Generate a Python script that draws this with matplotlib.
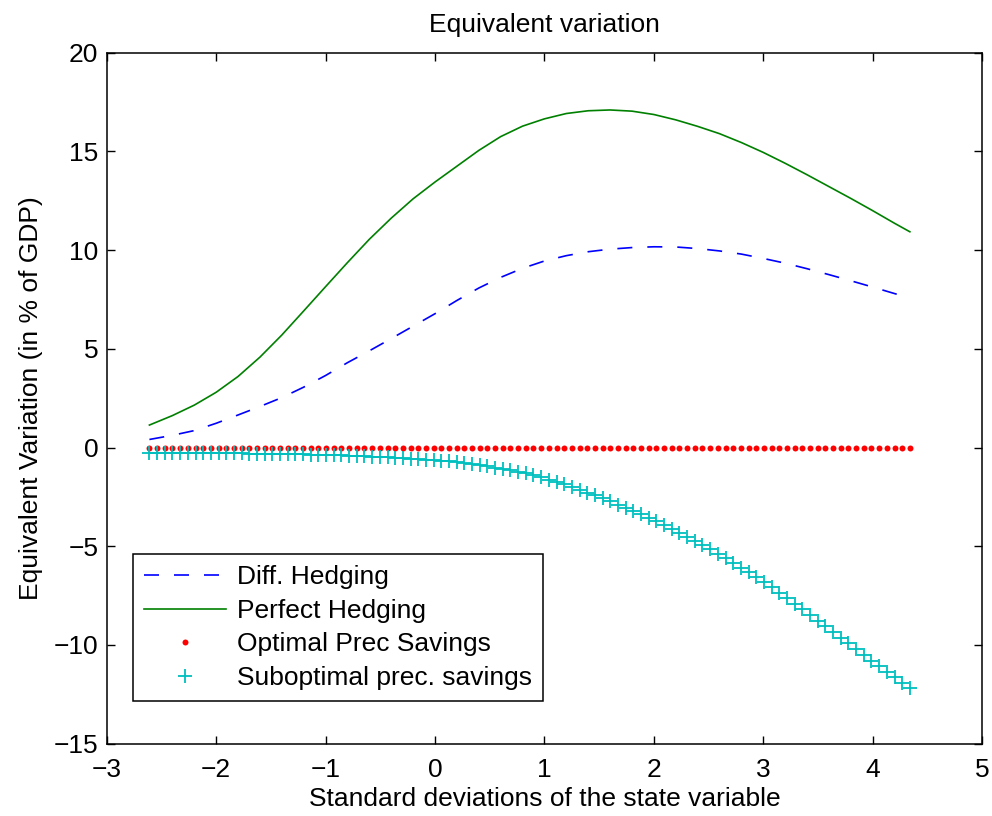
import numpy as np
import matplotlib.pyplot as plt

# state grid (std. deviations), 100 points
X_START, X_END, N_PTS = -2.61, 4.34, 100
state = np.linspace(X_START, X_END, N_PTS)

# Perfect hedging
perfect_x = [-2.61, -2.4, -2.2, -2.0, -1.8, -1.6, -1.4, -1.2, -1.0, -0.8,
             -0.6, -0.4, -0.2, 0.0, 0.2, 0.4, 0.6, 0.8, 1.0, 1.2,
             1.4, 1.6, 1.8, 2.0, 2.2, 2.4, 2.6, 2.8, 3.0, 3.2,
             3.4, 3.6, 3.8, 4.0, 4.2, 4.34]
perfect_y = [1.14, 1.62, 2.15, 2.80, 3.60, 4.58, 5.70, 6.92, 8.15, 9.37,
             10.55, 11.62, 12.60, 13.45, 14.25, 15.05, 15.75, 16.28, 16.65, 16.92,
             17.06, 17.10, 17.04, 16.87, 16.60, 16.27, 15.90, 15.45, 14.95, 14.40,
             13.82, 13.22, 12.62, 12.00, 11.36, 10.93]

# Diff. hedging
diff_x = [-2.61, -2.4, -2.2, -2.0, -1.8, -1.6, -1.4, -1.2, -1.0, -0.8,
          -0.6, -0.4, -0.2, 0.0, 0.2, 0.4, 0.6, 0.8, 1.0, 1.2,
          1.4, 1.6, 1.8, 2.0, 2.2, 2.4, 2.6, 2.8, 3.0, 3.2,
          3.4, 3.6, 3.8, 4.0, 4.2, 4.34]
diff_y = [0.41, 0.62, 0.86, 1.23, 1.65, 2.08, 2.53, 3.06, 3.65, 4.30,
          4.90, 5.52, 6.15, 6.78, 7.45, 8.08, 8.62, 9.08, 9.45, 9.72,
          9.92, 10.05, 10.13, 10.17, 10.16, 10.08, 9.96, 9.80, 9.58, 9.34,
          9.06, 8.76, 8.45, 8.13, 7.80, 7.58]

# Optimal precautionary savings
optimal_y = [0.0] * N_PTS

# Suboptimal precautionary savings
subopt_y = [-0.26, -0.26, -0.26, -0.27, -0.27, -0.27, -0.28, -0.28, -0.28, -0.29,
            -0.29, -0.30, -0.30, -0.31, -0.31, -0.32, -0.32, -0.33, -0.33, -0.34,
            -0.35, -0.36, -0.37, -0.38, -0.39, -0.40, -0.42, -0.43, -0.45, -0.47,
            -0.48, -0.50, -0.52, -0.54, -0.56, -0.59, -0.61, -0.64, -0.67, -0.70,
            -0.73, -0.77, -0.82, -0.88, -0.95, -1.01, -1.08, -1.15, -1.23, -1.31,
            -1.40, -1.51, -1.63, -1.75, -1.87, -2.00, -2.14, -2.28, -2.42, -2.57,
            -2.73, -2.89, -3.05, -3.22, -3.39, -3.56, -3.74, -3.93, -4.12, -4.31,
            -4.51, -4.72, -4.94, -5.16, -5.39, -5.61, -5.84, -6.08, -6.32, -6.57,
            -6.82, -7.08, -7.35, -7.62, -7.90, -8.18, -8.47, -8.76, -9.05, -9.34,
            -9.63, -9.92, -10.21, -10.50, -10.79, -11.07, -11.35, -11.63, -11.91, -12.19]

plt.rcParams['font.family'] = ['Liberation Sans', 'DejaVu Sans']
plt.rcParams['font.size'] = 19

fig = plt.figure(figsize=(9.92, 8.16), dpi=100)
ax = fig.add_axes([0.1076, 0.0886, 0.8824, 0.8468])

l1, = ax.plot(diff_x, diff_y, color=(0, 0, 1), linewidth=1.2, label="Diff. Hedging")
l1.set_dashes([9, 9])
ax.plot(perfect_x, perfect_y, color=(0, 0.5, 0), linewidth=1.2, label="Perfect Hedging")
ax.plot(state, optimal_y, linestyle='none', marker='o', markersize=4.3,
        color=(1, 0, 0), markeredgewidth=0, label="Optimal Prec Savings")
ax.plot(state, subopt_y, linestyle='none', marker='+', markersize=10.5,
        markeredgewidth=1.3, color=(0, 0.75, 0.75), label="Suboptimal prec. savings")

ax.set_xlim(-3, 5)
ax.set_ylim(-15, 20)
ax.set_xticks(range(-3, 6))
ax.set_yticks(range(-15, 21, 5))
ax.tick_params(direction='in', length=6, width=1, top=True, right=True)
ax.tick_params(axis='x', pad=10)
ax.tick_params(axis='y', pad=6)
for s in ax.spines.values():
    s.set_linewidth(1.1)

ax.set_title("Equivalent variation", fontsize=19, pad=15)
ax.set_xlabel("Standard deviations of the state variable", labelpad=4)
ax.set_ylabel("Equivalent Variation (in % of GDP)", labelpad=8)

leg = ax.legend(loc='lower left', bbox_to_anchor=(0.0304, 0.0618), borderaxespad=0,
                fancybox=False, edgecolor='black', framealpha=1, handlelength=3.1,
                handletextpad=0.4, labelspacing=0.36, borderpad=0.42, fontsize=19)
leg.get_frame().set_linewidth(1.1)

fig.savefig("out.png", dpi=100)
